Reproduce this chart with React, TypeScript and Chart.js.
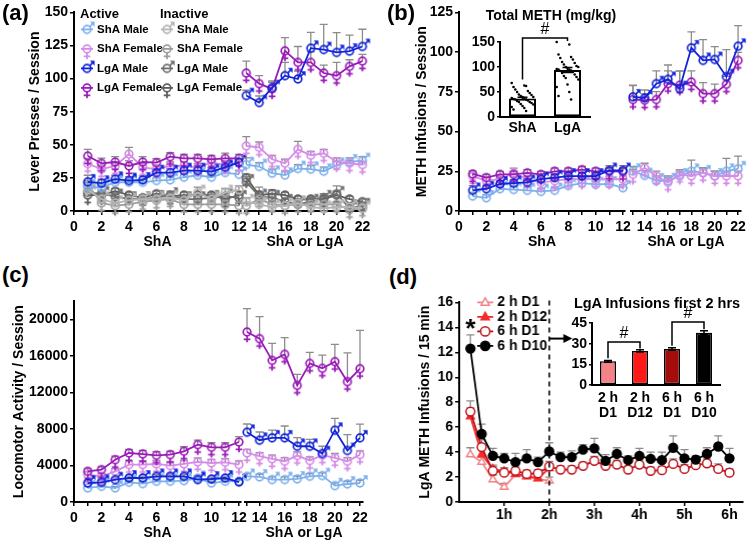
import React, { useEffect, useRef } from 'react';
import { Chart, registerables } from 'chart.js';
Chart.register(...registerables);

const FONT = 'Arial, "Liberation Sans", Helvetica, sans-serif';
Chart.defaults.font.family = FONT;
Chart.defaults.color = '#000';

// ---------------- data ----------------
const SESSIONS = [1, 2, 3, 4, 5, 6, 7, 8, 9, 10, 11, 12, 13, 14, 15, 16, 17, 18, 19, 20, 21, 22];
const X_TICKS_LEFT = [0, 1, 2, 3, 4, 5, 6, 7, 8, 9, 10, 11, 12];
const X_TICKS_RIGHT = [13, 14, 15, 16, 17, 18, 19, 20, 21, 22];
const QUARTERS = [1, 2, 3, 4, 5, 6, 7, 8, 9, 10, 11, 12, 13, 14, 15, 16, 17, 18, 19, 20, 21, 22, 23, 24];
const HOUR_TICKS = [4, 8, 12, 16, 20, 24];
const HOUR_LABELS = ['1h', '2h', '3h', '4h', '5h', '6h'];

// (a) Lever presses / session
const A_Y_TICKS = [0, 25, 50, 75, 100, 125, 150];
const A_ACT_SHA_M = [18.5, 17.7, 21.7, 21.7, 21.7, 23, 23.5, 25.5, 27, 25.5, 29, 27.7, 35, 33.5, 28.5, 27, 32, 31.5, 30, 34.5, 37, 38];
const A_ACT_SHA_F = [35.7, 31.7, 34, 43, 33, 31.7, 34, 34, 33, 36.5, 35, 36, 49, 48, 39, 36, 46.5, 42, 43.5, 37, 36, 35];
const A_ACT_LGA_M = [22, 21, 24, 23, 23.5, 29, 29, 30.5, 30.5, 29.7, 33, 36.7, 87, 81.7, 93, 102, 99.5, 122.7, 121.7, 119.5, 120.5, 124];
const A_ACT_LGA_F = [41.5, 36, 37, 34, 37, 36.5, 41, 39.7, 39.7, 39, 39.7, 39.7, 104, 96, 92, 120.7, 112, 112, 104, 102, 109, 113];
const A_ACT_SHA_M_SEM = [3, 2, 2, 2, 2, 2, 2, 2, 2, 2, 3, 3, 5, 3, 3, 3, 3, 3, 3, 3, 3, 3];
const A_ACT_SHA_F_SEM = [4, 3, 3, 5, 3, 3, 3, 3, 3, 3, 3, 3, 7, 4, 3, 3, 6, 3, 3, 3, 2, 2];
const A_ACT_LGA_M_SEM = [5, 3, 3, 3, 3, 3, 3, 3, 3, 3, 4, 3, 4, 5, 5, 10, 6, 12, 19, 15, 12, 13];
const A_ACT_LGA_F_SEM = [5, 4, 4, 4, 4, 3, 3, 3, 3, 3, 4, 3, 9, 6, 5, 10, 12, 8, 6, 10, 5, 5];
const A_INA_SHA_M = [16, 9, 6, 8, 9, 9, 10, 8, 14, 9, 14, 16, 7, 5, 3, 4, 6, 3, 2, 3, 3, 2];
const A_INA_SHA_F = [20, 6, 4, 5, 7, 8, 9, 5, 5, 5, 5, 4, 4, 9, 5, 4, 5, 5, 5, 5, 1, 2];
const A_INA_LGA_M = [14, 13, 11, 9, 9, 10, 12, 9, 9, 10, 11, 10, 22, 11, 10, 7, 5, 7, 10, 13, 2, 4];
const A_INA_LGA_F = [12, 12, 15, 12, 10, 13, 11, 12, 12, 12, 9, 12, 25, 12, 13, 12, 9, 9, 9, 12, 9, 7];
const A_INA_SHA_M_SEM = [3, 2, 2, 2, 2, 2, 3, 2, 4, 2, 3, 3, 3, 2, 2, 2, 2, 2, 2, 2, 2, 2];
const A_INA_SHA_F_SEM = [3, 2, 2, 2, 2, 2, 2, 2, 2, 2, 2, 2, 2, 3, 2, 2, 2, 2, 2, 2, 2, 2];
const A_INA_LGA_M_SEM = [3, 2, 2, 2, 2, 2, 3, 2, 2, 2, 2, 2, 4, 7, 3, 2, 2, 3, 3, 6, 2, 2];
const A_INA_LGA_F_SEM = [3, 2, 2, 2, 2, 2, 2, 2, 2, 2, 2, 2, 3, 3, 3, 2, 2, 2, 2, 3, 2, 2];

// (b) METH infusions / session
const B_Y_TICKS = [0, 25, 50, 75, 100, 125];
const B_SHA_M = [9.4, 8.3, 14, 13.5, 13, 12.3, 13, 16, 17.5, 16.7, 17, 14.6, 25, 22.3, 19, 19, 22, 25, 24, 22, 25, 26.5];
const B_SHA_F = [22, 19, 20, 24, 20, 18, 19, 20, 20, 20, 20, 20, 23, 27, 22, 18, 23, 22, 24, 22, 22, 22];
const B_LGA_M = [13, 14, 17, 17.5, 18, 20, 21, 22, 22, 22, 25.5, 25.5, 71.7, 71, 80, 82.7, 76.9, 102.5, 94.6, 95.2, 84.4, 103.5];
const B_LGA_F = [23.3, 21, 23, 23, 24, 23, 25, 25, 26, 25, 25, 24.8, 70, 69.6, 70, 80, 79, 81, 73.7, 73.7, 79.6, 94.6];
const B_SHA_M_SEM = [2, 2, 2, 2, 2, 2, 2, 2, 2, 2, 2, 2, 3, 3, 3, 3, 3, 7, 3, 3, 8, 8];
const B_SHA_F_SEM = [2, 2, 2, 3, 2, 2, 2, 2, 2, 2, 2, 2, 3, 3, 3, 3, 3, 3, 3, 3, 3, 3];
const B_LGA_M_SEM = [3, 2, 2, 2, 2, 2, 2, 2, 2, 2, 3, 3, 7, 5, 8, 9, 11, 10, 13, 8, 17, 13];
const B_LGA_F_SEM = [2, 2, 2, 2, 2, 2, 2, 2, 2, 2, 2, 2, 9, 4, 5, 8, 9, 7, 7, 6, 5, 5];

// (b) inset: total METH (mg/kg)
const INSET_B_LABELS = ['ShA', 'LgA'];
const INSET_B_MEANS = [37, 94];
const INSET_B_SEM = [2.5, 5];
const INSET_B_TICKS = [0, 50, 100, 150];
const INSET_B_SHA_DOTS = [68, 63, 60, 62, 55, 52, 50, 48, 45, 44, 42, 40, 40, 38, 38, 36, 35, 35, 33, 32, 30, 30, 28, 26, 25, 22, 20, 18, 15, 12];
const INSET_B_LGA_DOTS = [150, 145, 125, 120, 118, 115, 110, 108, 105, 102, 100, 100, 98, 96, 95, 95, 93, 92, 90, 88, 85, 82, 80, 78, 75, 65, 60, 50, 42, 35];

// (c) Locomotor activity / session
const C_Y_TICKS = [0, 4000, 8000, 12000, 16000, 20000];
const C_SHA_M = [1540, 1720, 1540, 2160, 2010, 2270, 2270, 2340, 2600, 2080, 2270, 2300, 2815, 2740, 2450, 2450, 2520, 2815, 2890, 1790, 1970, 2080];
const C_SHA_F = [3000, 2815, 3360, 4100, 4100, 4170, 3990, 4170, 4390, 4280, 4350, 4100, 5370, 5010, 4720, 4460, 5080, 4530, 5120, 4830, 4460, 5190];
const C_LGA_M = [2080, 2160, 2450, 2630, 2630, 2815, 2815, 2815, 2450, 2520, 2630, 2190, 7640, 6760, 7020, 7020, 6100, 6100, 5300, 7860, 5630, 7020];
const C_LGA_F = [3360, 3550, 4640, 5370, 5260, 5120, 5190, 5560, 6290, 6000, 6000, 6580, 18610, 17880, 15500, 16160, 12760, 15170, 14630, 15360, 13170, 14590];
const C_SHA_M_SEM = [150, 150, 150, 200, 200, 200, 200, 200, 300, 200, 200, 200, 300, 300, 300, 300, 300, 300, 300, 300, 300, 300];
const C_SHA_F_SEM = [300, 300, 300, 400, 400, 400, 400, 400, 450, 400, 400, 400, 400, 400, 400, 400, 400, 400, 400, 500, 400, 400];
const C_LGA_M_SEM = [200, 200, 200, 200, 200, 200, 200, 200, 200, 200, 200, 200, 900, 900, 850, 1300, 950, 750, 800, 1300, 1750, 1500];
const C_LGA_F_SEM = [300, 300, 400, 400, 400, 400, 400, 500, 500, 500, 500, 600, 2560, 2400, 1870, 1830, 1200, 1200, 1450, 1900, 3150, 4200];

// (d) LgA METH infusions / 15 min
const D_Y_TICKS = [0, 2, 4, 6, 8, 10, 12, 14, 16];
const D_2H_D1 = [3.8, 3.2, 1.8, 1.2, 2.2, 2.0, 1.85, 1.7];
const D_2H_D12 = [6.85, 3.8, 2.65, 2.45, 2.25, 2.1, 1.9, 2.7];
const D_6H_D1 = [7.25, 4.4, 2.5, 2.35, 2.5, 2.25, 2.3, 2.85, 2.6, 2.6, 2.9, 3.3, 2.9, 3.0, 2.6, 3.0, 2.5, 2.55, 3.05, 2.65, 2.95, 3.1, 2.65, 2.35];
const D_6H_D10 = [12.3, 5.45, 3.7, 3.5, 3.2, 3.5, 3.2, 4.05, 3.6, 3.6, 4.2, 4.3, 3.3, 3.85, 3.35, 3.7, 3.45, 3.35, 4.35, 3.5, 3.4, 3.85, 4.45, 3.5];
const D_2H_D1_SEM = [0.55, 0.4, 0.35, 0.3, 0.4, 0.35, 0.3, 0.3];
const D_2H_D12_SEM = [0.7, 0.5, 0.3, 0.3, 0.3, 0.3, 0.3, 0.3];
const D_6H_D1_SEM = [0.85, 0.6, 0.35, 0.3, 0.3, 0.3, 0.3, 0.4, 0.3, 0.3, 0.3, 0.35, 0.3, 0.35, 0.3, 0.35, 0.3, 0.3, 0.4, 0.35, 0.3, 0.35, 0.4, 0.3];
const D_6H_D10_SEM = [1.1, 0.8, 0.6, 0.4, 0.7, 0.7, 0.4, 0.7, 0.4, 0.5, 0.4, 0.8, 0.5, 0.5, 0.35, 0.6, 0.55, 0.65, 0.95, 0.7, 0.3, 0.5, 0.85, 0.8];
const D_DASH_AT = 8;
const D_ARROW_Y = 13.1;
const D_ARROW_END = 10.05;
const D_STAR_Y = 13.2;

// (d) inset: LgA infusions first 2 hrs
const INSET_D_LABELS = [['2 h', 'D1'], ['2 h', 'D12'], ['6 h', 'D1'], ['6 h', 'D10']];
const INSET_D_MEANS = [17.2, 24.7, 26.1, 38];
const INSET_D_SEM = [0.6, 0.8, 0.9, 1.3];
const INSET_D_TICKS = [0, 15, 30, 45];

// ---------------- colours ----------------
const COL_SHA_M = '#7db0ee';
const COL_SHA_F = '#d58be8';
const COL_LGA_M = '#1224d8';
const COL_LGA_F = '#9a1cb8';
const COL_I_SHA_M = '#b4b4b4';
const COL_I_SHA_F = '#9c9c9c';
const COL_I_LGA_M = '#6e6e6e';
const COL_I_LGA_F = '#5c5c5c';
const COL_2H_D1 = '#f28488';
const COL_2H_D12 = '#f52a2a';
const COL_6H_D1 = '#c0141c';
const COL_6H_D10 = '#000000';
const INSET_D_COLORS = ['#f38387', '#ff1a1a', '#a50d0d', '#000000'];

// ---------------- geometry helpers ----------------
type Geo = { x0: number; x1: number; y0: number; y1: number; W: number; H: number; padL: number; padR: number; padT: number; padB: number };
function boxOf(g: Geo) {
  return {
    left: g.x0 - g.W - g.padL,
    top: g.y0 - g.padT,
    width: g.padL + g.W + (g.x1 - g.x0) + g.padR,
    height: g.padT + (g.y1 - g.y0) + g.H + g.padB,
  };
}

const GRID = { display: true, drawOnChartArea: false, drawTicks: true, tickLength: 4, color: '#000', lineWidth: 1.5 };
const BORDER = { display: true, color: '#000', width: 2 };

// sex-symbol point styles
const glyphCache: Record<string, HTMLCanvasElement> = {};
function glyph(color: string, sex: 'M' | 'F'): HTMLCanvasElement {
  const key = color + sex;
  if (glyphCache[key]) return glyphCache[key];
  const c = document.createElement('canvas');
  c.width = 26;
  c.height = 26;
  const g = c.getContext('2d')!;
  const cx = 13, cy = 13, r = 3.8;
  g.strokeStyle = color;
  g.fillStyle = color;
  g.lineWidth = 1.7;
  g.beginPath();
  g.arc(cx, cy, r, 0, Math.PI * 2);
  g.stroke();
  if (sex === 'M') {
    const d = Math.SQRT1_2;
    const sx = cx + r * d, sy = cy - r * d;
    const tx = cx + (r + 7) * d, ty = cy - (r + 7) * d;
    g.beginPath();
    g.moveTo(sx, sy);
    g.lineTo(tx - 1.5, ty + 1.5);
    g.stroke();
    g.beginPath();
    g.moveTo(tx, ty);
    g.lineTo(tx - 4.8, ty);
    g.lineTo(tx, ty + 4.8);
    g.closePath();
    g.fill();
  } else {
    g.beginPath();
    g.moveTo(cx, cy + r);
    g.lineTo(cx, cy + r + 6.5);
    g.moveTo(cx - 3.3, cy + r + 3.6);
    g.lineTo(cx + 3.3, cy + r + 3.6);
    g.stroke();
  }
  glyphCache[key] = c;
  return c;
}

function drawMarker(ctx: CanvasRenderingContext2D, style: string, x: number, y: number, r: number, color: string, filled: boolean) {
  ctx.beginPath();
  if (style === 'triangle') {
    ctx.moveTo(x, y - r);
    ctx.lineTo(x + r * 0.9, y + r * 0.6);
    ctx.lineTo(x - r * 0.9, y + r * 0.6);
    ctx.closePath();
  } else {
    ctx.arc(x, y, r, 0, Math.PI * 2);
  }
  ctx.fillStyle = filled ? color : '#fff';
  ctx.fill();
  ctx.strokeStyle = color;
  ctx.lineWidth = 1.5;
  ctx.stroke();
}

// ---------------- plugins ----------------
function drawErr(chart: any, onTop: boolean) {
  const ctx = chart.ctx;
  chart.data.datasets.forEach((ds: any, i: number) => {
    if (!ds.sem || !!ds.errOnTop !== onTop) return;
    const meta = chart.getDatasetMeta(i);
    const ys = chart.scales[meta.yAxisID];
    ctx.save();
    ctx.strokeStyle = ds.errColor || '#8c8c8c';
    ctx.lineWidth = ds.errWidth || 1.3;
    meta.data.forEach((el: any, j: number) => {
      const e = ds.sem[j];
      const raw = ds.data[j];
      const v = typeof raw === 'number' ? raw : raw && raw.y;
      if (!e || v == null) return;
      const x = el.x;
      const y = ys.getPixelForValue(v);
      const yt = ys.getPixelForValue(v + e);
      const cw = ds.capWidth || 4;
      ctx.beginPath();
      ctx.moveTo(x, y);
      ctx.lineTo(x, yt);
      ctx.moveTo(x - cw, yt);
      ctx.lineTo(x + cw, yt);
      if (ds.errBoth) {
        const yb = ys.getPixelForValue(v - e);
        ctx.moveTo(x, y);
        ctx.lineTo(x, yb);
        ctx.moveTo(x - cw, yb);
        ctx.lineTo(x + cw, yb);
      }
      ctx.stroke();
    });
    ctx.restore();
  });
}
const errorBars = {
  id: 'errorBars',
  beforeDatasetsDraw(chart: any) { drawErr(chart, false); },
  afterDatasetsDraw(chart: any) { drawErr(chart, true); },
};

const dotsPlugin = {
  id: 'dots',
  afterDatasetsDraw(chart: any) {
    const ctx = chart.ctx;
    chart.data.datasets.forEach((ds: any, i: number) => {
      if (!ds.dots) return;
      const meta = chart.getDatasetMeta(i);
      const ys = chart.scales[meta.yAxisID];
      ctx.save();
      ctx.fillStyle = '#000';
      meta.data.forEach((el: any, j: number) => {
        const list: number[] = ds.dots[j] || [];
        const w = el.width * 0.8;
        list.forEach((v, k) => {
          const f = ((k * 7) % 13) / 12 - 0.5;
          ctx.beginPath();
          ctx.arc(el.x + f * w, ys.getPixelForValue(v), 1.3, 0, Math.PI * 2);
          ctx.fill();
        });
      });
      ctx.restore();
    });
  },
};

type Bracket = { a: number; b: number; top: number; la: number; lb: number; text: string };
function bracketPlugin(items: Bracket[]) {
  return {
    id: 'brackets',
    afterDatasetsDraw(chart: any) {
      const { ctx, scales } = chart;
      const xs = scales.x, ys = scales.y;
      ctx.save();
      ctx.strokeStyle = '#000';
      ctx.lineWidth = 1.5;
      ctx.fillStyle = '#000';
      ctx.font = `16px ${FONT}`;
      ctx.textAlign = 'center';
      ctx.textBaseline = 'middle';
      items.forEach((it) => {
        const xa = xs.getPixelForValue(it.a), xb = xs.getPixelForValue(it.b);
        const yt = ys.getPixelForValue(it.top);
        ctx.beginPath();
        ctx.moveTo(xa, ys.getPixelForValue(it.la));
        ctx.lineTo(xa, yt);
        ctx.lineTo(xb, yt);
        ctx.lineTo(xb, ys.getPixelForValue(it.lb));
        ctx.stroke();
        ctx.fillText(it.text, (xa + xb) / 2, yt - 8);
      });
      ctx.restore();
    },
  };
}

// ---------------- series ----------------
type Series = { label: string; values: number[]; sem: number[]; color: string; sex?: 'M' | 'F'; style?: string; filled?: boolean };

function toDatasets(series: Series[], xs: number[], from: number, to: number) {
  return series.map((s) => {
    const pts: any[] = [];
    const sem: number[] = [];
    for (let i = from; i < to && i < s.values.length; i++) {
      pts.push({ x: xs[i], y: s.values[i] });
      sem.push(s.sem[i] || 0);
    }
    return {
      label: s.label,
      data: pts,
      sem,
      borderColor: s.color,
      borderWidth: 1.8,
      tension: 0,
      clip: false,
      pointStyle: s.sex ? glyph(s.color, s.sex) : s.style,
      pointRadius: s.sex ? 4 : 4.4,
      pointBorderColor: s.color,
      pointBorderWidth: 1.5,
      pointBackgroundColor: s.filled ? s.color : '#fff',
      backgroundColor: s.filled ? s.color : '#fff',
    };
  });
}

const A_ACTIVE: Series[] = [
  { label: 'ShA Male', values: A_ACT_SHA_M, sem: A_ACT_SHA_M_SEM, color: COL_SHA_M, sex: 'M' },
  { label: 'ShA Female', values: A_ACT_SHA_F, sem: A_ACT_SHA_F_SEM, color: COL_SHA_F, sex: 'F' },
  { label: 'LgA Male', values: A_ACT_LGA_M, sem: A_ACT_LGA_M_SEM, color: COL_LGA_M, sex: 'M' },
  { label: 'LgA Female', values: A_ACT_LGA_F, sem: A_ACT_LGA_F_SEM, color: COL_LGA_F, sex: 'F' },
];
const A_INACTIVE: Series[] = [
  { label: 'ShA Male', values: A_INA_SHA_M, sem: A_INA_SHA_M_SEM, color: COL_I_SHA_M, sex: 'M' },
  { label: 'ShA Female', values: A_INA_SHA_F, sem: A_INA_SHA_F_SEM, color: COL_I_SHA_F, sex: 'F' },
  { label: 'LgA Male', values: A_INA_LGA_M, sem: A_INA_LGA_M_SEM, color: COL_I_LGA_M, sex: 'M' },
  { label: 'LgA Female', values: A_INA_LGA_F, sem: A_INA_LGA_F_SEM, color: COL_I_LGA_F, sex: 'F' },
];
// drawing order: first = on top
const A_ALL = [A_ACTIVE[2], A_ACTIVE[3], A_ACTIVE[1], A_ACTIVE[0], ...A_INACTIVE];
const B_ALL: Series[] = [
  { label: 'LgA Male', values: B_LGA_M, sem: B_LGA_M_SEM, color: COL_LGA_M, sex: 'M' },
  { label: 'LgA Female', values: B_LGA_F, sem: B_LGA_F_SEM, color: COL_LGA_F, sex: 'F' },
  { label: 'ShA Female', values: B_SHA_F, sem: B_SHA_F_SEM, color: COL_SHA_F, sex: 'F' },
  { label: 'ShA Male', values: B_SHA_M, sem: B_SHA_M_SEM, color: COL_SHA_M, sex: 'M' },
];
const C_ALL: Series[] = [
  { label: 'LgA Male', values: C_LGA_M, sem: C_LGA_M_SEM, color: COL_LGA_M, sex: 'M' },
  { label: 'LgA Female', values: C_LGA_F, sem: C_LGA_F_SEM, color: COL_LGA_F, sex: 'F' },
  { label: 'ShA Female', values: C_SHA_F, sem: C_SHA_F_SEM, color: COL_SHA_F, sex: 'F' },
  { label: 'ShA Male', values: C_SHA_M, sem: C_SHA_M_SEM, color: COL_SHA_M, sex: 'M' },
];
const D_LEGEND: Series[] = [
  { label: '2 h D1', values: D_2H_D1, sem: D_2H_D1_SEM, color: COL_2H_D1, style: 'triangle', filled: false },
  { label: '2 h D12', values: D_2H_D12, sem: D_2H_D12_SEM, color: COL_2H_D12, style: 'triangle', filled: true },
  { label: '6 h D1', values: D_6H_D1, sem: D_6H_D1_SEM, color: COL_6H_D1, style: 'circle', filled: false },
  { label: '6 h D10', values: D_6H_D10, sem: D_6H_D10_SEM, color: COL_6H_D10, style: 'circle', filled: true },
];
const D_ALL = [D_LEGEND[3], D_LEGEND[2], D_LEGEND[1], D_LEGEND[0]];

// ---------------- geometries ----------------
const GEO_A_L: Geo = { x0: 74, x1: 241, y0: 12, y1: 211, W: 54, H: 40, padL: 0, padR: 12, padT: 10, padB: 0 };
const GEO_A_R: Geo = { x0: 245, x1: 365, y0: 12, y1: 211, W: 0, H: 40, padL: 8, padR: 10, padT: 10, padB: 0 };
const GEO_B_L: Geo = { x0: 459, x1: 625, y0: 12, y1: 211, W: 51, H: 40, padL: 0, padR: 12, padT: 10, padB: 0 };
const GEO_B_R: Geo = { x0: 631, x1: 745, y0: 12, y1: 211, W: 0, H: 40, padL: 8, padR: 5, padT: 10, padB: 0 };
const GEO_C_L: Geo = { x0: 74, x1: 241, y0: 301, y1: 502, W: 70, H: 40, padL: 0, padR: 12, padT: 10, padB: 0 };
const GEO_C_R: Geo = { x0: 245, x1: 363, y0: 301, y1: 502, W: 0, H: 40, padL: 8, padR: 10, padT: 10, padB: 0 };
const GEO_D: Geo = { x0: 459, x1: 742.5, y0: 302, y1: 502, W: 48, H: 30, padL: 0, padR: 6, padT: 10, padB: 0 };
const GEO_BI: Geo = { x0: 500, x1: 590, y0: 42, y1: 117, W: 30, H: 22, padL: 0, padR: 10, padT: 20, padB: 0 };
const GEO_DI: Geo = { x0: 592, x1: 720, y0: 323, y1: 385, W: 30, H: 40, padL: 0, padR: 10, padT: 20, padB: 0 };

// ---------------- config builders ----------------
type LineSpec = {
  geo: Geo; datasets: any[]; xMin: number; xMax: number; xTicks: number[]; xLabel: (v: number) => string;
  xTitle: string; xFont: number; xPad: number; yMin: number; yMax: number; yTicks: number[];
  yTitle: string | null; yTitleCenter: number; plugins: any[];
};

function lineConfig(p: LineSpec): any {
  const g = p.geo;
  const box = boxOf(g);
  const showY = p.yTitle !== null;
  return {
    type: 'line',
    data: { datasets: p.datasets },
    options: {
      responsive: false,
      maintainAspectRatio: false,
      animation: false,
      events: [],
      layout: { padding: { left: g.padL, right: g.padR, top: g.padT, bottom: g.padB } },
      plugins: { legend: { display: false }, tooltip: { enabled: false } },
      scales: {
        x: {
          type: 'linear', min: p.xMin, max: p.xMax,
          afterBuildTicks: (s: any) => { s.ticks = p.xTicks.map((v) => ({ value: v })); },
          afterFit: (s: any) => { s.height = g.H; },
          grid: GRID, border: BORDER,
          ticks: { autoSkip: false, maxRotation: 0, padding: p.xPad, color: '#000', font: { size: p.xFont, weight: 'bold' }, callback: (v: any) => p.xLabel(Number(v)) },
          title: { display: !!p.xTitle, text: p.xTitle, color: '#000', font: { size: 14, weight: 'bold' }, padding: { top: 0, bottom: 0 } },
        },
        y: {
          type: 'linear', display: showY, min: p.yMin, max: p.yMax,
          afterBuildTicks: (s: any) => { s.ticks = p.yTicks.map((v) => ({ value: v })); },
          afterFit: (s: any) => { s.width = g.W; },
          grid: GRID, border: BORDER,
          ticks: { padding: 2, color: '#000', font: { size: 14, weight: 'bold' }, callback: (v: any) => String(v) },
          title: { display: showY, text: p.yTitle || '', color: '#000', font: { size: 14, weight: 'bold' }, padding: { top: p.yTitleCenter - box.left - g.padL - 8.4, bottom: 0 } },
        },
      },
    },
    plugins: [errorBars, ...p.plugins],
  };
}

const evenLabel = (v: number) => (v % 2 === 0 ? String(v) : '');
const hourLabel = (v: number) => {
  const k = HOUR_TICKS.indexOf(v);
  return k >= 0 ? HOUR_LABELS[k] : '';
};

function legendAPlugin(geo: Geo) {
  return {
    id: 'legendA',
    afterDraw(chart: any) {
      const ctx = chart.ctx;
      const ox = chart.chartArea.left - geo.x0;
      const oy = chart.chartArea.top - geo.y0;
      const rows = [17, 36.5, 56, 75.5];
      ctx.save();
      ctx.fillStyle = '#000';
      ctx.textAlign = 'left';
      ctx.textBaseline = 'middle';
      ctx.font = `bold 13px ${FONT}`;
      ctx.fillText('Active', geo.x0 + 6 + ox, geo.y0 + 2 + oy);
      ctx.fillText('Inactive', geo.x0 + 86 + ox, geo.y0 + 2 + oy);
      const cols: [Series[], number][] = [[A_ACTIVE, 6], [A_INACTIVE, 86]];
      cols.forEach(([list, dx]) => {
        list.forEach((s, k) => {
          const mx = geo.x0 + dx + 7 + ox;
          const my = geo.y0 + rows[k] + oy;
          ctx.strokeStyle = s.color;
          ctx.lineWidth = 1.8;
          ctx.beginPath();
          ctx.moveTo(mx - 6, my);
          ctx.lineTo(mx + 6, my);
          ctx.stroke();
          ctx.drawImage(glyph(s.color, s.sex as 'M' | 'F'), mx - 13, my - 13);
          ctx.fillStyle = '#000';
          ctx.font = `bold 11.5px ${FONT}`;
          ctx.fillText(s.label, mx + 10, my);
        });
      });
      ctx.restore();
    },
  };
}

const panelDExtras = {
  id: 'dExtras',
  afterDatasetsDraw(chart: any) {
    const { ctx, chartArea } = chart;
    const x = chart.scales.x, y = chart.scales.y;
    ctx.save();
    const xd = x.getPixelForValue(D_DASH_AT);
    ctx.setLineDash([5, 4]);
    ctx.strokeStyle = '#000';
    ctx.lineWidth = 1.6;
    ctx.beginPath();
    ctx.moveTo(xd, chartArea.top - 2);
    ctx.lineTo(xd, chartArea.bottom);
    ctx.stroke();
    ctx.setLineDash([]);
    const ya = y.getPixelForValue(D_ARROW_Y);
    const xe = x.getPixelForValue(D_ARROW_END);
    ctx.lineWidth = 2;
    ctx.beginPath();
    ctx.moveTo(xd, ya);
    ctx.lineTo(xe - 6, ya);
    ctx.stroke();
    ctx.fillStyle = '#000';
    ctx.beginPath();
    ctx.moveTo(xe, ya);
    ctx.lineTo(xe - 9, ya - 4.5);
    ctx.lineTo(xe - 9, ya + 4.5);
    ctx.closePath();
    ctx.fill();
    ctx.font = `bold 26px ${FONT}`;
    ctx.textAlign = 'center';
    ctx.textBaseline = 'alphabetic';
    ctx.fillText('*', x.getPixelForValue(QUARTERS[0]), y.getPixelForValue(D_STAR_Y));
    // legend
    const rows = [0, 14.5, 29, 43.5];
    ctx.textAlign = 'left';
    ctx.textBaseline = 'middle';
    D_LEGEND.forEach((s, k) => {
      const my = chartArea.top + rows[k];
      const mx = chartArea.left + 26;
      ctx.strokeStyle = s.color;
      ctx.lineWidth = 1.8;
      ctx.beginPath();
      ctx.moveTo(mx - 8, my);
      ctx.lineTo(mx + 8, my);
      ctx.stroke();
      drawMarker(ctx, s.style || 'circle', mx, my, 4.6, s.color, !!s.filled);
      ctx.fillStyle = '#000';
      ctx.font = `bold 14px ${FONT}`;
      ctx.fillText(s.label, mx + 12, my);
    });
    ctx.restore();
  },
};

function barConfig(p: { geo: Geo; labels: any[]; dataset: any; yMax: number; yTicks: number[]; plugins: any[]; tickFont: any; tickPad: number }): any {
  const g = p.geo;
  return {
    type: 'bar',
    data: { labels: p.labels, datasets: [p.dataset] },
    options: {
      responsive: false,
      maintainAspectRatio: false,
      animation: false,
      events: [],
      layout: { padding: { left: g.padL, right: g.padR, top: g.padT, bottom: g.padB } },
      plugins: { legend: { display: false }, tooltip: { enabled: false } },
      scales: {
        x: {
          afterFit: (s: any) => { s.height = g.H; },
          grid: { display: false, drawTicks: false },
          border: BORDER,
          ticks: { padding: p.tickPad, color: '#000', font: p.tickFont, maxRotation: 0, autoSkip: false },
        },
        y: {
          type: 'linear', min: 0, max: p.yMax,
          afterBuildTicks: (s: any) => { s.ticks = p.yTicks.map((v) => ({ value: v })); },
          afterFit: (s: any) => { s.width = g.W; },
          grid: { ...GRID, tickLength: 3 },
          border: BORDER,
          ticks: { padding: 2, color: '#000', font: { size: 14, weight: 'bold' }, callback: (v: any) => String(v) },
        },
      },
    },
    plugins: [errorBars, ...p.plugins],
  };
}

// ---------------- components ----------------
function ChartCanvas({ geo, make }: { geo: Geo; make: () => any }) {
  const ref = useRef<HTMLCanvasElement>(null);
  const box = boxOf(geo);
  useEffect(() => {
    const chart = new Chart(ref.current as HTMLCanvasElement, make());
    return () => chart.destroy();
  }, []);
  return (
    <canvas
      ref={ref}
      width={box.width}
      height={box.height}
      style={{ position: 'absolute', left: box.left, top: box.top, width: box.width, height: box.height }}
    />
  );
}

function Text({ text, left, top, size, center }: { text: string; left: number; top: number; size: number; center?: boolean }) {
  return (
    <div
      style={{
        position: 'absolute', left, top, font: `bold ${size}px ${FONT}`, lineHeight: 1, whiteSpace: 'nowrap', color: '#000',
        transform: center ? 'translateX(-50%)' : undefined,
      }}
    >
      {text}
    </div>
  );
}

export default function App() {
  const aL = () => lineConfig({
    geo: GEO_A_L, datasets: toDatasets(A_ALL, SESSIONS, 0, 12), xMin: 0, xMax: 12.15, xTicks: X_TICKS_LEFT, xLabel: evenLabel,
    xTitle: 'ShA', xFont: 14, xPad: 4, yMin: 0, yMax: 150, yTicks: A_Y_TICKS, yTitle: 'Lever Presses / Session', yTitleCenter: 35,
    plugins: [legendAPlugin(GEO_A_L)],
  });
  const aR = () => lineConfig({
    geo: GEO_A_R, datasets: toDatasets(A_ALL, SESSIONS, 12, 22), xMin: 12.9, xMax: 22.2, xTicks: X_TICKS_RIGHT, xLabel: evenLabel,
    xTitle: 'ShA or LgA', xFont: 14, xPad: 4, yMin: 0, yMax: 150, yTicks: A_Y_TICKS, yTitle: null, yTitleCenter: 0, plugins: [],
  });
  const bL = () => lineConfig({
    geo: GEO_B_L, datasets: toDatasets(B_ALL, SESSIONS, 0, 12), xMin: 0, xMax: 12.15, xTicks: X_TICKS_LEFT, xLabel: evenLabel,
    xTitle: 'ShA', xFont: 14, xPad: 4, yMin: 0, yMax: 125, yTicks: B_Y_TICKS, yTitle: 'METH Infusions / Session', yTitleCenter: 422, plugins: [],
  });
  const bR = () => lineConfig({
    geo: GEO_B_R, datasets: toDatasets(B_ALL, SESSIONS, 12, 22), xMin: 12.83, xMax: 22.25, xTicks: X_TICKS_RIGHT, xLabel: evenLabel,
    xTitle: 'ShA or LgA', xFont: 14, xPad: 4, yMin: 0, yMax: 125, yTicks: B_Y_TICKS, yTitle: null, yTitleCenter: 0, plugins: [],
  });
  const cL = () => lineConfig({
    geo: GEO_C_L, datasets: toDatasets(C_ALL, SESSIONS, 0, 12), xMin: 0, xMax: 12.15, xTicks: X_TICKS_LEFT, xLabel: evenLabel,
    xTitle: 'ShA', xFont: 14, xPad: 4, yMin: 0, yMax: 22000, yTicks: C_Y_TICKS, yTitle: 'Locomotor Activity / Session', yTitleCenter: 19, plugins: [],
  });
  const cR = () => lineConfig({
    geo: GEO_C_R, datasets: toDatasets(C_ALL, SESSIONS, 12, 22), xMin: 12.84, xMax: 22.24, xTicks: X_TICKS_RIGHT, xLabel: evenLabel,
    xTitle: 'ShA or LgA', xFont: 14, xPad: 4, yMin: 0, yMax: 22000, yTicks: C_Y_TICKS, yTitle: null, yTitleCenter: 0, plugins: [],
  });
  const d = () => lineConfig({
    geo: GEO_D, datasets: toDatasets(D_ALL, QUARTERS, 0, 24), xMin: 0, xMax: 25.2, xTicks: HOUR_TICKS, xLabel: hourLabel,
    xTitle: '', xFont: 14, xPad: 1, yMin: 0, yMax: 16, yTicks: D_Y_TICKS, yTitle: 'LgA METH Infusions / 15 min', yTitleCenter: 425,
    plugins: [panelDExtras],
  });
  const bi = () => barConfig({
    geo: GEO_BI, labels: INSET_B_LABELS,
    dataset: {
      data: INSET_B_MEANS, sem: INSET_B_SEM, errBoth: true, errOnTop: true, errColor: '#000', errWidth: 1.5, capWidth: 5,
      dots: [INSET_B_SHA_DOTS, INSET_B_LGA_DOTS], backgroundColor: '#fff', borderColor: '#000', borderWidth: 2,
      borderSkipped: false, barPercentage: 0.6, categoryPercentage: 1,
    },
    yMax: 150, yTicks: INSET_B_TICKS, tickFont: { size: 14, weight: 'bold' }, tickPad: 3,
    plugins: [dotsPlugin, bracketPlugin([{ a: 0, b: 1, top: 158, la: 75, lb: 152, text: '#' }])],
  });
  const di = () => barConfig({
    geo: GEO_DI, labels: INSET_D_LABELS,
    dataset: {
      data: INSET_D_MEANS, sem: INSET_D_SEM, errBoth: true, errOnTop: true, errColor: '#000', errWidth: 1.5, capWidth: 4,
      backgroundColor: INSET_D_COLORS, borderColor: '#000', borderWidth: 1.5, borderSkipped: false,
      barPercentage: 0.5, categoryPercentage: 1,
    },
    yMax: 45, yTicks: INSET_D_TICKS, tickFont: { size: 14, weight: 'bold', lineHeight: 1.05 }, tickPad: 6,
    plugins: [bracketPlugin([
      { a: 0, b: 1, top: 31.2, la: 19.5, lb: 26.5, text: '#' },
      { a: 2, b: 3, top: 45.7, la: 28.5, lb: 40.5, text: '#' },
    ])],
  });

  return (
    <div style={{ position: 'absolute', left: 0, top: 0, width: 750, height: 541, overflow: 'hidden', background: '#fff' }}>
      <ChartCanvas geo={GEO_A_L} make={aL} />
      <ChartCanvas geo={GEO_A_R} make={aR} />
      <ChartCanvas geo={GEO_B_L} make={bL} />
      <ChartCanvas geo={GEO_B_R} make={bR} />
      <ChartCanvas geo={GEO_C_L} make={cL} />
      <ChartCanvas geo={GEO_C_R} make={cR} />
      <ChartCanvas geo={GEO_D} make={d} />
      <ChartCanvas geo={GEO_BI} make={bi} />
      <ChartCanvas geo={GEO_DI} make={di} />
      <Text text="(a)" left={2} top={2} size={22} />
      <Text text="(b)" left={387} top={2} size={22} />
      <Text text="(c)" left={2} top={264} size={22} />
      <Text text="(d)" left={389} top={266} size={22} />
      <Text text="Total METH (mg/kg)" left={551} top={8} size={14} center />
      <Text text="LgA Infusions first 2 hrs" left={657} top={296} size={14.5} center />
    </div>
  );
}
